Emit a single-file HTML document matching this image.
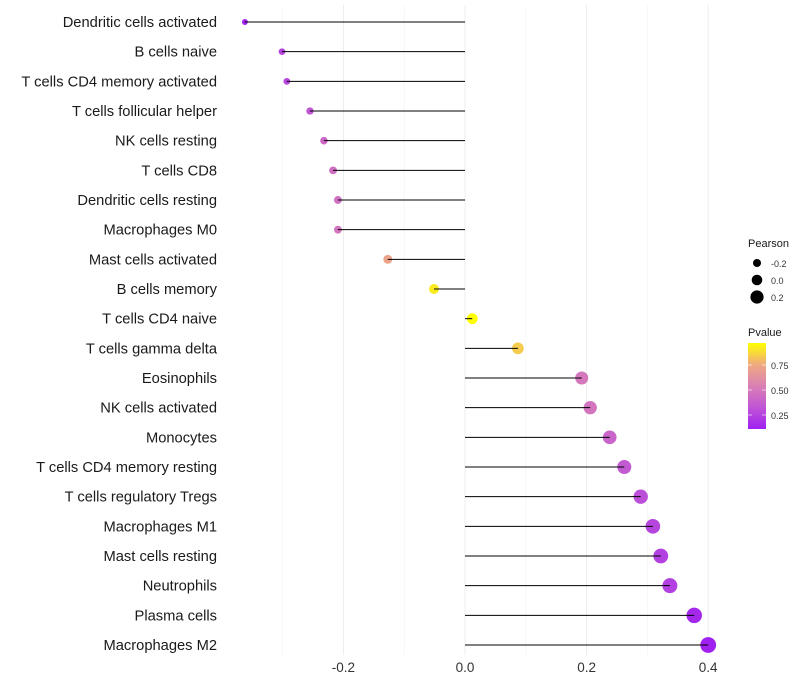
<!DOCTYPE html>
<html><head><meta charset="utf-8"><style>
body{margin:0;background:#fff;font-family:"Liberation Sans",sans-serif;}
svg{display:block}
</style></head><body>
<svg id="c" width="800" height="700">
<defs><linearGradient id="pg" x1="0" y1="1" x2="0" y2="0">
<stop offset="0" stop-color="#a020f0"/><stop offset="0.25" stop-color="#bf55d5"/><stop offset="0.5" stop-color="#da80b5"/><stop offset="0.75" stop-color="#efaa80"/><stop offset="1" stop-color="#ffff00"/></linearGradient></defs>
</svg>
<script>
const categories=["Dendritic cells activated","B cells naive","T cells CD4 memory activated","T cells follicular helper","NK cells resting","T cells CD8","Dendritic cells resting","Macrophages M0","Mast cells activated","B cells memory","T cells CD4 naive","T cells gamma delta","Eosinophils","NK cells activated","Monocytes","T cells CD4 memory resting","T cells regulatory  Tregs ","Macrophages M1","Mast cells resting","Neutrophils","Plasma cells","Macrophages M2"];
const pearson=[-0.362,-0.301,-0.293,-0.255,-0.232,-0.217,-0.209,-0.209,-0.127,-0.051,0.012,0.087,0.192,0.206,0.238,0.262,0.289,0.309,0.322,0.337,0.377,0.400];
const pvalue=[0.12,0.25,0.27,0.33,0.42,0.45,0.46,0.48,0.72,0.92,0.97,0.84,0.5,0.48,0.4,0.35,0.3,0.26,0.24,0.24,0.14,0.11];
const xTicks=[-0.2,0,0.2,0.4];
const xTickLabels=["-0.2","0.0","0.2","0.4"];
const gridVals=[-0.3,-0.2,-0.1,0,0.1,0.2,0.3,0.4];
const svg=document.getElementById('c');const NS='http://www.w3.org/2000/svg';
const X=v=>465+v*608;
const Y=i=>22+i*29.667;
const R=v=>Math.max(1.5,5.3+6.5*v);
function mk(t,a,p){const e=document.createElementNS(NS,t);for(const k in a)e.setAttribute(k,a[k]);(p||svg).appendChild(e);return e;}
const stops=[[0,[160,32,240]],[0.25,[191,85,213]],[0.5,[218,128,181]],[0.75,[239,170,128]],[1,[255,255,0]]];
function col(p){let t=(p-0.11)/(0.97-0.11);t=Math.max(0,Math.min(1,t));for(let i=1;i<stops.length;i++){if(t<=stops[i][0]){const a=stops[i-1],b=stops[i];const f=(t-a[0])/(b[0]-a[0]);const c=a[1].map((v,j)=>Math.round(v+(b[1][j]-v)*f));return `rgb(${c})`;}}return 'rgb(255,255,0)';}
gridVals.forEach(v=>{const major=xTicks.some(t=>Math.abs(t-v)<1e-9);const g=mk('line',{x1:X(v),x2:X(v),y1:5,y2:655,stroke:major?'#ebebeb':'#f3f3f3','stroke-width':major?0.9:0.6});

});
categories.forEach((c,i)=>{
const t=mk('text',{x:217,y:Y(i)+5,'text-anchor':'end','font-size':'14.7',fill:'#1a1a1a'});t.textContent=c;


const pt=mk('circle',{cx:X(pearson[i]),cy:Y(i),r:R(pearson[i]),fill:col(pvalue[i])});


const l=mk('line',{x1:X(0),x2:X(pearson[i]),y1:Y(i),y2:Y(i),stroke:'#000','stroke-width':1});


});
xTicks.forEach((v,i)=>{const t=mk('text',{x:X(v),y:672,'text-anchor':'middle','font-size':'13.5',fill:'#333'});t.textContent=xTickLabels[i];

});
const lg=mk('g',{});


mk('text',{x:748,y:247,'font-size':'11',fill:'#1a1a1a'},lg).textContent='Pearson';
[[-0.2,263],[0,280],[0.2,297]].forEach(([v,y])=>{mk('circle',{cx:757,cy:y,r:R(v)},lg);mk('text',{x:771,y:y+4,'font-size':'9',fill:'#333'},lg).textContent=v.toFixed(1);});
mk('text',{x:748,y:336,'font-size':'11',fill:'#1a1a1a'},lg).textContent='Pvalue';
mk('rect',{x:748,y:343,width:18,height:86,fill:'url(#pg)'},lg);
[[0.75,365],[0.5,390],[0.25,415]].forEach(([v,y])=>{mk('line',{x1:748,x2:752,y1:y,y2:y,stroke:'#fff','stroke-opacity':0.6},lg);mk('line',{x1:762,x2:766,y1:y,y2:y,stroke:'#fff','stroke-opacity':0.6},lg);mk('text',{x:771,y:y+4,'font-size':'9',fill:'#333'},lg).textContent=v.toFixed(2);});
</script>
</body></html>
